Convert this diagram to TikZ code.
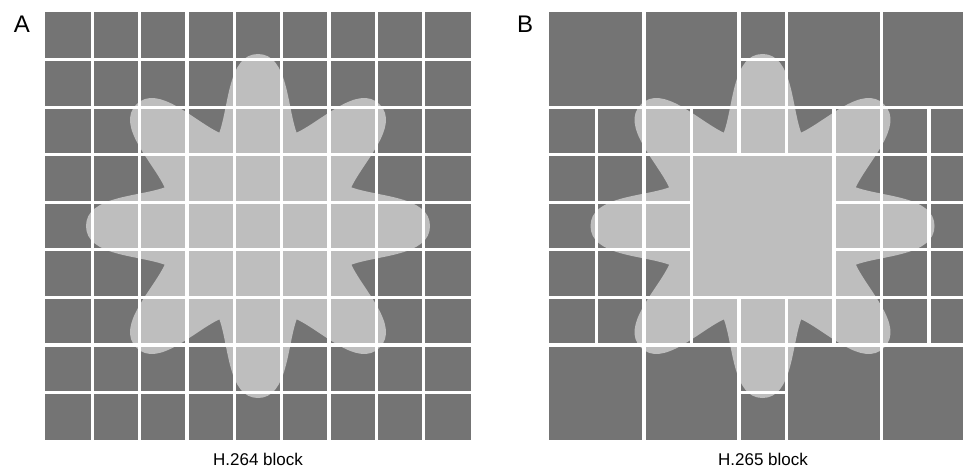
\documentclass[tikz,border=0pt]{standalone}
\usepackage{fontspec}
\setmainfont{Liberation Sans}
\definecolor{tiledark}{RGB}{116,116,116}
\definecolor{starlight}{RGB}{190,190,190}
\newcommand{\starpath}{%
  ([rotate=0]93.3,38.7) \foreach \t in {0,45,...,315}{
    .. controls ([rotate=\t]120,29) and ([rotate=\t]172,30) .. ([rotate=\t]172,0)
    .. controls ([rotate=\t]172,-30) and ([rotate=\t]120,-29) .. ([rotate=\t]93.3,-38.7)
  } -- cycle}
\begin{document}
\begin{tikzpicture}[x=1pt,y=-1pt,
  gridline/.style={white,line width=3.2pt},
  panellabel/.style={font=\fontsize{24}{24}\selectfont, inner sep=0pt},
  captiontext/.style={font=\fontsize{17}{17}\selectfont, inner sep=0pt, anchor=base}]
\useasboundingbox (0,0) rectangle (963,468);
\clip (0,0) rectangle (963,468);

% ---------- Panel A ----------
\def\ax{45}\def\ay{12}\def\acw{47.33}\def\ach{47.56}
\fill[tiledark] (\ax,\ay) rectangle (471,440);
\begin{scope}[shift={(258,226)}]
  \fill[starlight] \starpath;
\end{scope}
\foreach \i in {1,...,8}{
  \draw[gridline] ({\ax+\i*\acw},\ay) -- ({\ax+\i*\acw},440);
  \draw[gridline] (\ax,{\ay+\i*\ach}) -- (471,{\ay+\i*\ach});
}

% ---------- Panel B ----------
\def\bx{549}\def\bcw{47.5}
\fill[tiledark] (\bx,\ay) rectangle (977,440);
\begin{scope}[shift={(762.5,226)}]
  \fill[starlight] \starpath;
\end{scope}
% vertical lines
\foreach \i in {2,7}{
  \draw[gridline] ({\bx+\i*\bcw},\ay) -- ({\bx+\i*\bcw},440);
}
\foreach \i in {1,3,6,8}{
  \draw[gridline] ({\bx+\i*\bcw},{\ay+2*\ach}) -- ({\bx+\i*\bcw},{\ay+7*\ach});
}
\foreach \i in {4,5}{
  \draw[gridline] ({\bx+\i*\bcw},\ay) -- ({\bx+\i*\bcw},{\ay+3*\ach});
  \draw[gridline] ({\bx+\i*\bcw},{\ay+6*\ach}) -- ({\bx+\i*\bcw},440);
}
% horizontal lines
\foreach \j in {2,3,6,7}{
  \draw[gridline] (\bx,{\ay+\j*\ach}) -- (977,{\ay+\j*\ach});
}
\foreach \j in {4,5}{
  \draw[gridline] (\bx,{\ay+\j*\ach}) -- ({\bx+3*\bcw},{\ay+\j*\ach});
  \draw[gridline] ({\bx+6*\bcw},{\ay+\j*\ach}) -- (977,{\ay+\j*\ach});
}
\foreach \j in {1,8}{
  \draw[gridline] ({\bx+4*\bcw},{\ay+\j*\ach}) -- ({\bx+5*\bcw},{\ay+\j*\ach});
}

% ---------- Labels ----------
\node[panellabel] (labA) at (22,24) {A};
\node[panellabel] (labB) at (525,24) {B};
\node[captiontext] (capA) at (258,465) {H.264 block};
\node[captiontext] (capB) at (763,465) {H.265 block};
\end{tikzpicture}
\end{document}
